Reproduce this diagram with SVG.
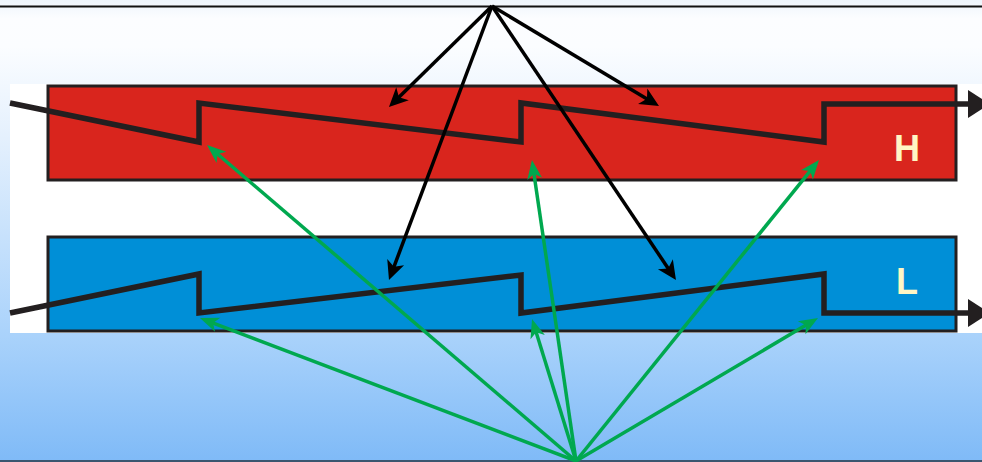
<svg xmlns="http://www.w3.org/2000/svg" width="982" height="462" viewBox="0 0 982 462">
  <defs>
    <linearGradient id="bg" x1="0" y1="0" x2="0" y2="1">
      <stop offset="0" stop-color="#eef5fc"/>
      <stop offset="0.04" stop-color="#fcfdff"/>
      <stop offset="0.1" stop-color="#fbfdff"/>
      <stop offset="0.3" stop-color="#e4f0fd"/>
      <stop offset="0.73" stop-color="#a9d2fb"/>
      <stop offset="1" stop-color="#7fbaf7"/>
    </linearGradient>
    <marker id="ah-black" markerUnits="userSpaceOnUse" viewBox="-10 -10 22 20" markerWidth="22" markerHeight="20" refX="0" refY="0" orient="auto">
      <path d="M10,0 L-9,-9 L-4,0 L-9,9 Z" fill="#000"/>
    </marker>
    <marker id="ah-green" markerUnits="userSpaceOnUse" viewBox="-10 -10 22 20" markerWidth="22" markerHeight="20" refX="0" refY="0" orient="auto">
      <path d="M10,0 L-9,-7.5 L-4,0 L-9,7.5 Z" fill="#00a84f"/>
    </marker>
  </defs>
  <style>
    .box { stroke: #231f20; stroke-width: 3; }
    .saw { fill: none; stroke: #231f20; stroke-width: 5.5; stroke-linejoin: miter; }
    .head { fill: #231f20; }
    .lbl { font-family: "Liberation Sans", Arial, sans-serif; font-weight: bold; font-size: 36px; fill: #fff6c4; text-anchor: middle; }
    .blk { stroke: #000; stroke-width: 3.5; fill: none; marker-end: url(#ah-black); }
    .grn { stroke: #00a84f; stroke-width: 3.5; fill: none; marker-end: url(#ah-green); }
  </style>

  <rect x="0" y="0" width="982" height="462" fill="url(#bg)"/>
  <line x1="0" y1="6.5" x2="982" y2="6.5" stroke="#111" stroke-width="2"/>
  <line x1="0" y1="461" x2="982" y2="461" stroke="#3a5670" stroke-width="2"/>
  <rect x="10" y="84" width="972" height="249" fill="#ffffff"/>

  <g id="node-H">
    <rect class="box" x="48" y="86" width="908" height="94" fill="#d9251d"/>
    <path class="saw" d="M10,103 L199,142 L199,103 L521,142 L521,103 L824,142 L824,104 L970,104"/>
    <polygon class="head" points="968,90 968,118 990,104"/>
    <text class="lbl" x="907" y="161">H</text>
  </g>

  <g id="node-L">
    <rect class="box" x="48" y="237" width="908" height="94" fill="#008fd7"/>
    <path class="saw" d="M10,313 L199,274 L199,313 L521,275 L521,313 L824,274 L824,313 L970,313"/>
    <polygon class="head" points="968,299 968,327 990,313"/>
    <text class="lbl" x="907" y="294">L</text>
  </g>

  <g id="connectors">
    <line class="blk" x1="492" y1="6" x2="396.1" y2="100"/>
    <line class="blk" x1="492" y1="6" x2="650.4" y2="100.9"/>
    <line class="blk" x1="492" y1="6" x2="392.5" y2="270.6"/>
    <line class="blk" x1="492" y1="6" x2="670.4" y2="271.7"/>
    <line class="grn" x1="576" y1="461" x2="214.6" y2="151.5"/>
    <line class="grn" x1="576" y1="461" x2="533.4" y2="169.9"/>
    <line class="grn" x1="576" y1="461" x2="812.7" y2="167.8"/>
    <line class="grn" x1="576" y1="461" x2="209.3" y2="321.6"/>
    <line class="grn" x1="576" y1="461" x2="535" y2="328.5"/>
    <line class="grn" x1="576" y1="461" x2="809.4" y2="323.1"/>
  </g>
</svg>
